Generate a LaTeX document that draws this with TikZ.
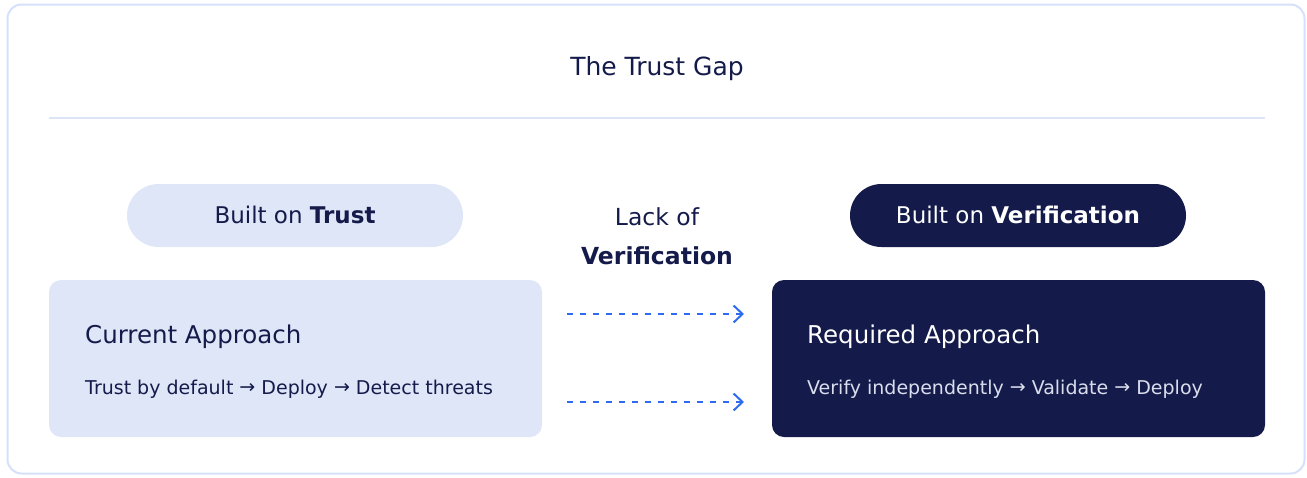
\documentclass[tikz,border=0pt]{standalone}
\usepackage{fontspec}
\setmainfont{DejaVu Sans}
\usetikzlibrary{arrows.meta}
\definecolor{navy}{HTML}{141B4B}
\definecolor{lav}{HTML}{DFE6F8}
\definecolor{framecol}{HTML}{D5E1FA}
\definecolor{rulecol}{HTML}{DCE5F5}
\definecolor{flow}{HTML}{2F6BF0}
\definecolor{softtext}{HTML}{D9DDEC}
\newcommand{\nextstep}{ {\fontsize{19}{22}\selectfont\raisebox{0.5pt}{→}} }
\tikzset{
  frame/.style={draw=framecol, line width=2pt, rounded corners=14pt},
  rulerline/.style={draw=rulecol, line width=2pt},
  titletext/.style={font=\fontsize{25}{30}\selectfont, text=navy, anchor=base},
  pill/.style={rectangle, rounded corners=31.5pt, minimum width=336pt, minimum height=63pt,
    inner sep=0pt, text height=16.8pt, text depth=0pt, font=\fontsize{23}{27}\selectfont},
  panel/.style={rectangle, rounded corners=12pt, minimum width=493pt, minimum height=157pt, inner sep=0pt},
  heading/.style={anchor=base west, inner sep=0pt, font=\fontsize{24.5}{28}\selectfont},
  steps/.style={anchor=base west, inner sep=0pt, font=\fontsize{19}{22}\selectfont},
  gaptext/.style={anchor=base, inner sep=0pt, font=\fontsize{23.5}{27}\selectfont, text=navy},
  gaparrow/.style={draw=flow, line width=2pt, dash pattern=on 6pt off 7pt,
    -{Straight Barb[length=9pt, width=17pt, line width=2pt]}}
}
\begin{document}
\begin{tikzpicture}[x=1pt, y=-1pt]
\useasboundingbox (0,0) rectangle (1307,477);
% outer card and title rule
\draw[frame] (7.5,4.5) rectangle (1304.5,473.5);
\node[titletext] (title) at (657,75) {The Trust Gap};
\coordinate (ruleL) at (49,118);
\coordinate (ruleR) at (1265,118);
\draw[rulerline] (ruleL) -- (ruleR);

% badges
\node[pill, fill=lav, text=navy] (trustpill) at (295,215.5) {Built on \textbf{Trust}};
\node[pill, fill=navy, text=white] (verifpill) at (1018,215.5) {Built on \textbf{Verification}};

% centre label
\node[gaptext] (lack) at (657,225) {Lack of};
\node[gaptext] (lackv) at (657,264) {\textbf{Verification}};

% approach panels
\node[panel, fill=lav] (current) at (295.5,358.5) {};
\node[heading, text=navy] (curhead) at (85,343) {Current Approach};
\node[steps, text=navy] (cursteps) at (85,394) {Trust by default\nextstep Deploy\nextstep Detect threats};

\node[panel, fill=navy] (required) at (1018.5,358.5) {};
\node[heading, text=white] (reqhead) at (807,343) {Required Approach};
\node[steps, text=softtext] (reqsteps) at (807,394) {Verify independently\nextstep Validate\nextstep Deploy};

% dashed links between panels
\coordinate (link1s) at (567,314);
\coordinate (link1e) at (744,314);
\coordinate (link2s) at (567,402);
\coordinate (link2e) at (744,402);
\draw[gaparrow] (link1s) -- (link1e);
\draw[gaparrow] (link2s) -- (link2e);
\end{tikzpicture}
\end{document}
